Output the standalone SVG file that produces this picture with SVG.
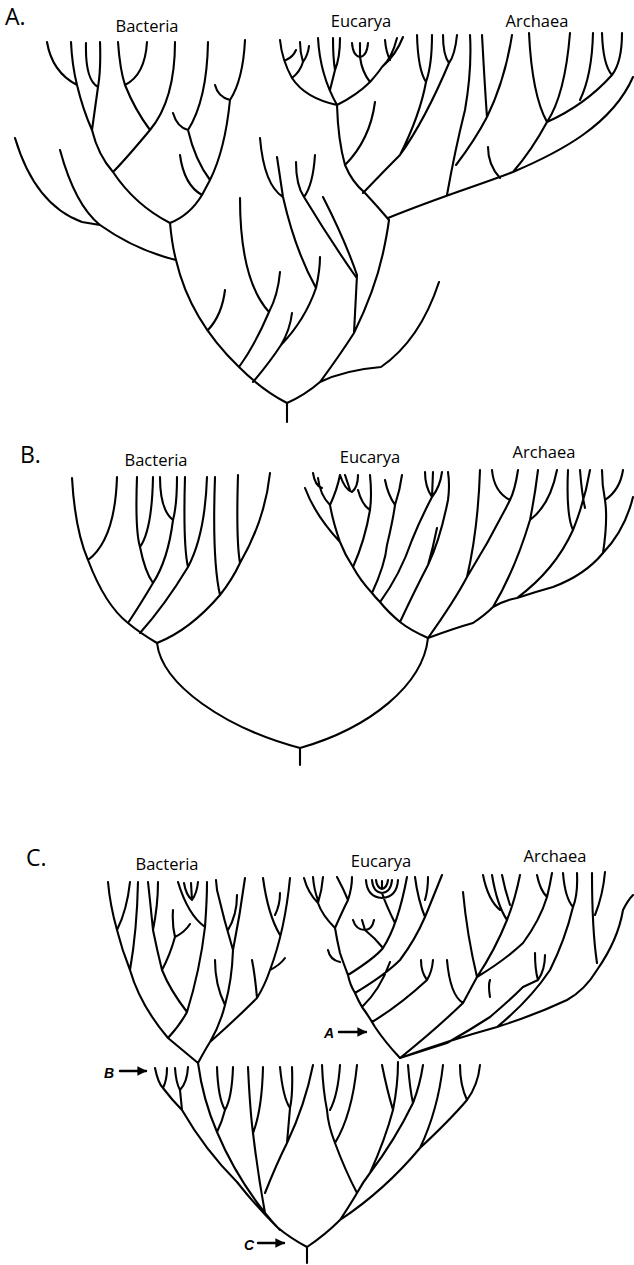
<svg xmlns="http://www.w3.org/2000/svg" width="634" height="1265" viewBox="0 0 634 1265">
<style>
path{fill:none;stroke:#000;stroke-width:2.1;stroke-linecap:round;stroke-linejoin:round}
.t{font-family:"Open Sans",Lato,"Liberation Sans",sans-serif;font-size:16.5px;fill:#000;text-anchor:middle}
.p{font-family:"Open Sans",Lato,"Liberation Sans",sans-serif;font-size:23px;fill:#000}
.a{font-family:"Liberation Sans",Arial,sans-serif;font-size:14px;font-weight:bold;font-style:italic;fill:#000}
.ar{stroke-width:2.4}
</style>
<defs>
<marker id="ah" viewBox="0 0 10 10" refX="9" refY="5" markerWidth="4" markerHeight="4" orient="auto"><path d="M0,0 L10,5 L0,10 z" style="fill:#000;stroke:none"/></marker>
</defs>
<rect width="634" height="1265" fill="#fff"/>

<g id="panelA">
<text class="p" x="5" y="25">A.</text>
<text class="t" x="147" y="32">Bacteria</text>
<text class="t" x="361" y="27">Eucarya</text>
<text class="t" x="537" y="27">Archaea</text>
<g id="A-bacteria">
<path d="M47,42 Q52,72 77,85 M71,42 Q72,65 77,85 Q83,110 92,130 M86,43 Q85,80 98,87 M100,42 Q101,70 98,87 L92,130 M92,130 Q98,155 113,172 Q135,205 170,223 M118,42 Q120,70 125,85 Q135,110 150,130 M147,42 Q145,75 125,85 M175,42 Q175,100 150,130 Q125,160 113,172 M208,42 Q207,100 188,130 Q195,160 210,180 M173,113 Q177,127 188,130 M245,40 Q243,80 230,100 M215,85 Q218,97 230,100 M230,100 Q225,150 210,180 L202,195 Q190,215 170,223 M180,155 Q184,185 202,195 M15,138 Q35,205 82,222 L100,225 M60,150 Q75,205 100,225 Q135,250 176,260"/>
</g>
<g id="A-trunk">
<path d="M170,223 Q172,245 176,260 Q190,320 239,367 Q262,390 287,403 L287,422 M287,403 Q305,395 320,382 Q340,355 354,333 Q375,290 383,253 Q387,235 389,220 M208,330 Q222,315 225,290 M239,367 Q255,345 269,312 Q278,295 280,272 M240,198 Q240,280 269,312 M253,382 Q270,362 281,345 Q290,330 292,313 M281,345 Q305,320 316,288 Q320,270 320,257 M260,138 Q264,185 283,197 M277,157 L283,197 Q295,250 316,288 M296,162 Q296,185 304,197 M315,155 Q313,185 304,197 Q330,240 356,277 M323,197 Q345,240 357,275 L354,333 M320,382 Q345,370 381,367 Q420,340 439,282"/>
</g>
<g id="A-eucarya">
<path d="M389,220 Q378,207 365,193 Q352,182 345,165 Q338,140 337,105 M345,165 Q370,140 375,102 M337,105 Q305,98 292,78 Q282,60 280,40 M292,78 Q300,72 303,62 M303,62 Q300,52 300,42 M303,62 Q308,55 309,46 M286,60 Q293,57 296,50 M318,38 Q320,75 337,105 M333,38 Q333,58 335,70 M340,38 Q340,58 335,70 M335,70 Q332,82 330,90 M337,105 Q357,95 370,82 Q378,73 382,67 Q396,55 403,37 M352,43 Q353,56 360,57 Q367,56 368,43 M360,43 L360,57 M360,57 Q362,72 370,82 M397,38 Q392,58 382,67 M385,40 Q386,52 390,60"/>
</g>
<g id="A-archaea">
<path d="M388,218 C445,195 480,185 513,172 C560,152 612,125 633,77 M500,178 Q488,165 488,147 M513,172 Q532,150 547,122 M529,33 Q532,95 547,122 M570,33 Q565,95 547,122 M547,122 Q585,105 612,75 M593,33 Q592,75 580,100 M602,33 Q603,65 612,75 M622,33 Q622,62 612,75 M447,195 Q455,150 465,110 Q472,70 470,35 M456,165 Q475,140 487,117 Q505,80 512,35 M482,35 Q485,90 487,117 M363,193 Q385,170 400,155 Q425,120 449,63 M443,35 Q443,55 449,63 M457,35 Q455,55 449,63 M400,155 Q420,115 426,82 M417,35 Q418,70 426,82 M432,35 Q432,65 426,82"/>
</g>
</g>

<g id="panelB">
<text class="p" x="20" y="463">B.</text>
<text class="t" x="156" y="466">Bacteria</text>
<text class="t" x="370" y="463">Eucarya</text>
<text class="t" x="544" y="458">Archaea</text>
<g id="B-bacteria">
<path d="M72,478 Q75,530 88,560 Q105,605 128,623 Q140,633 157,643 M117,477 Q115,540 88,560 M137,477 Q135,530 140,547 Q145,572 153,583 M153,477 Q152,530 140,547 M160,477 Q160,510 173,520 M177,477 Q177,505 173,520 Q168,560 153,583 Q140,605 128,623 M185,477 Q183,545 188,567 M207,477 Q205,535 188,567 Q165,605 140,633 M157,643 Q190,630 220,595 Q232,580 240,563 Q265,520 270,473 M215,477 Q212,560 220,595 M238,475 Q236,540 240,563"/>
</g>
<g id="B-root">
<path d="M157,643 C162,685 225,728 300,748 L300,765 M428,638 C423,685 370,728 300,748"/>
</g>
<g id="B-eucarya">
<path d="M428,638 Q410,630 400,622 Q388,612 380,602 Q375,597 372,593 Q360,580 353,567 Q345,555 340,542 Q315,515 305,488 M340,542 Q333,522 330,505 M330,505 Q320,495 318,478 M330,505 Q337,490 340,475 M313,473 Q315,486 322,488 M353,567 Q365,540 370,510 Q372,495 370,475 M370,510 Q362,505 358,490 M372,593 Q385,565 387,545 Q393,520 395,505 Q400,490 402,475 M395,505 Q388,495 385,480 M380,602 Q400,575 412,540 Q420,520 432,497 M432,497 Q425,487 425,472 M432,497 L433,472 M432,497 Q440,487 442,472 M400,622 Q415,590 428,565 Q440,540 448,500 Q450,485 448,472 M428,565 Q433,548 437,528 M340,475 Q345,490 352,492 Q358,487 358,475 M345,475 L350,490"/>
</g>
<g id="B-archaea">
<path d="M428,638 Q455,628 473,623 Q485,615 493,607 Q505,600 517,598 Q535,592 553,587 Q585,575 603,553 Q625,530 633,497 M428,638 Q455,600 467,577 Q478,530 480,470 M492,470 Q494,492 510,500 M518,470 Q515,490 510,500 M510,500 Q490,540 467,577 M493,607 Q515,570 530,520 Q535,495 538,470 M530,520 Q550,505 557,470 M517,598 Q555,570 573,530 Q585,500 590,470 M568,470 Q566,515 573,530 M580,470 Q582,495 585,508 M603,553 Q608,520 605,500 Q602,485 602,470 M605,500 Q620,490 623,470"/>
</g>
</g>

<g id="panelC">
<text class="p" x="26" y="866">C.</text>
<text class="t" x="167" y="870">Bacteria</text>
<text class="t" x="381" y="867">Eucarya</text>
<text class="t" x="555" y="862">Archaea</text>
<g id="C-bacteria">
<path d="M198,1063 Q180,1048 168,1038 Q140,1005 130,970 Q122,950 117,930 Q110,905 108,882 M117,930 Q127,910 130,882 M130,970 Q137,930 138,882 M168,1038 Q180,1025 187,1012 Q170,990 162,970 Q157,950 153,930 Q150,900 148,882 M153,930 Q158,905 158,882 M162,970 Q170,955 175,937 M175,937 Q172,925 173,910 M175,937 Q185,932 190,924 M187,1012 Q200,970 205,927 Q207,900 207,882 M178,882 Q188,915 205,927 M184,883 Q186,895 192,900 Q197,893 198,882 M191,883 L192,900 M198,1063 Q205,1050 210,1042 Q235,1020 257,998 Q265,985 270,970 Q285,930 290,878 M210,1042 Q220,1025 225,1005 Q232,980 233,950 Q240,915 245,878 M225,1005 Q215,985 215,960 M233,950 Q224,920 217,890 L216,880 M228,930 Q237,915 237,895 M257,998 Q255,975 252,960 M270,970 Q280,965 285,958 M280,935 Q268,915 263,878 M275,915 Q280,905 280,893"/>
</g>
<g id="C-lower">
<path d="M307,1247 L307,1263 M307,1247 Q290,1238 277,1227 Q255,1205 237,1182 Q205,1150 182,1110 L180,1090 M155,1068 Q158,1083 163,1088 M167,1068 Q167,1080 163,1088 M163,1088 Q172,1100 182,1110 M175,1068 Q176,1083 180,1090 M188,1067 Q187,1083 180,1090 M198,1063 Q203,1100 217,1132 Q235,1175 265,1213 M217,1067 Q218,1098 225,1110 M233,1067 Q232,1098 225,1110 Q222,1122 217,1132 M248,1067 Q250,1110 253,1133 Q258,1175 265,1213 Q272,1222 280,1230 M263,1067 Q262,1110 253,1133 M265,1193 Q276,1165 287,1143 Q305,1105 313,1065 M280,1067 Q283,1098 290,1108 M292,1067 Q293,1095 290,1108 L287,1143 M307,1247 Q325,1235 340,1220 Q350,1205 357,1193 Q363,1182 370,1173 Q385,1140 393,1110 Q398,1085 398,1062 M340,1220 Q385,1190 420,1148 Q450,1120 467,1100 Q478,1085 480,1065 M420,1148 Q438,1110 443,1065 M467,1100 Q460,1085 460,1065 M357,1193 Q345,1170 335,1143 Q328,1125 327,1110 Q323,1090 322,1065 M335,1143 Q352,1115 357,1065 M340,1065 Q338,1095 330,1110 M370,1173 Q395,1140 413,1103 Q420,1085 423,1065 M408,1065 Q410,1090 413,1103 M393,1110 Q387,1090 382,1065"/>
</g>
<g id="C-eucarya">
<path d="M400,1058 Q385,1042 375,1027 Q368,1015 362,1007 Q358,1000 355,993 Q350,985 348,975 Q343,962 340,953 Q337,940 335,928 M335,928 Q322,915 318,903 M318,903 Q308,893 304,878 M318,903 Q322,890 323,877 M313,877 Q314,890 318,900 M335,928 Q342,912 348,900 M348,900 Q343,888 337,877 M348,900 Q352,888 352,877 M328,950 Q330,960 340,962 M348,975 Q375,958 383,948 Q398,925 407,877 M395,923 Q386,905 382,893 M372,880 Q373,892 382,893 Q391,892 392,880 M376,880 Q377,888 382,889 Q387,888 388,880 M366,880 Q367,897 382,898 Q397,897 398,880 M382,881 L382,889 M383,948 Q375,938 365,930 M353,920 Q356,930 365,930 Q372,930 374,920 M362,920 L365,930 M355,993 Q385,975 400,960 Q415,940 425,917 M425,917 Q418,900 415,877 M425,917 Q432,900 442,875 M428,877 Q428,890 425,900 M362,1007 Q380,990 390,962 M372,1022 Q400,1005 427,980 M427,980 Q421,972 421,960 M427,980 Q432,972 433,960"/>
</g>
<g id="C-archaea">
<path d="M400,1058 Q435,1030 463,1003 Q470,990 477,977 Q495,950 507,920 Q515,900 520,875 M447,960 Q450,995 463,1003 M507,920 Q497,905 492,875 M483,875 Q488,900 500,910 M463,892 Q467,935 477,977 M400,1058 Q425,1050 447,1043 Q470,1030 490,1017 Q510,1000 523,987 M490,997 Q488,985 490,980 M400,1058 Q450,1040 497,1027 Q535,1015 567,1000 Q585,990 597,970 Q618,940 623,910 Q628,900 633,895 M592,873 Q592,930 597,963 M605,872 Q603,895 595,915 M497,1027 Q530,1000 550,970 Q565,940 573,907 M563,873 Q565,898 573,907 M577,873 Q578,895 573,907 M477,977 Q505,960 523,943 Q540,920 547,897 Q550,885 552,873 M538,980 Q535,970 535,953 M538,980 Q545,970 545,955 M523,987 L538,980 M547,897 Q540,890 537,875 M502,875 Q505,890 510,905"/>
</g>
<g id="arrows">
<text class="a" x="324" y="1038">A</text>
<path class="ar" d="M339,1032 L366,1032" marker-end="url(#ah)"/>
<text class="a" x="104" y="1078">B</text>
<path class="ar" d="M120,1071 L146,1071" marker-end="url(#ah)"/>
<text class="a" x="244" y="1250">C</text>
<path class="ar" d="M258,1243 L284,1243" marker-end="url(#ah)"/>
</g>
</g>
</svg>
